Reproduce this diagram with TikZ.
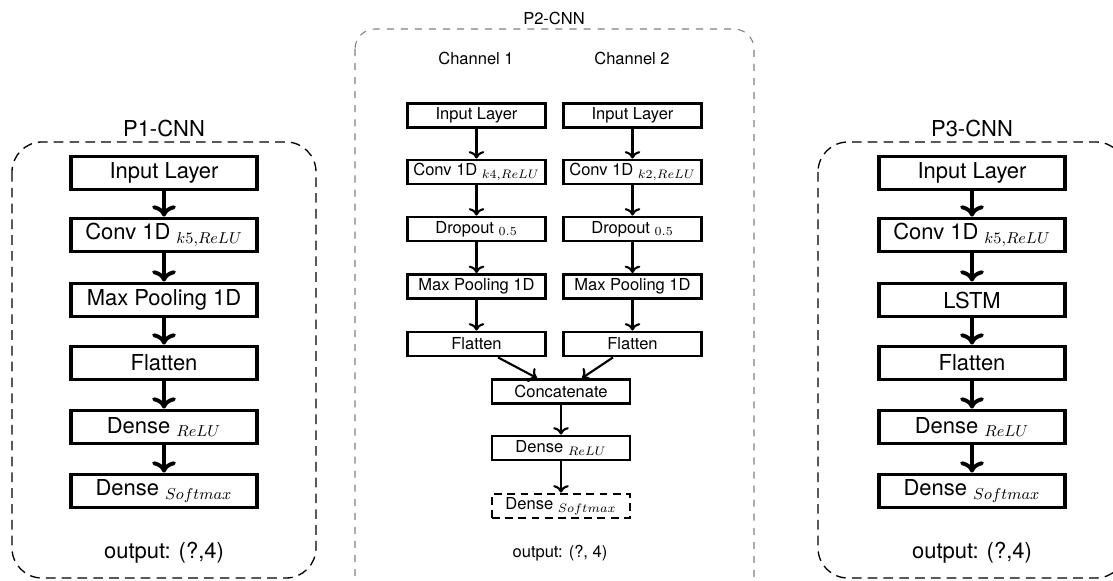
\documentclass[tikz,border=0pt]{standalone}
\usepackage{fontspec}
\setmainfont{TeX Gyre Heros}
\usetikzlibrary{arrows.meta}

\begin{document}
\begin{tikzpicture}[x=0.02cm, y=-0.02cm,
        bigbox/.style={draw, line width=2.2pt, minimum width=3.72cm,
            minimum height=0.66cm, inner sep=0pt, font=\fontsize{12.5}{15}\selectfont},
        smallbox/.style={draw, line width=1.6pt, minimum width=2.76cm,
            minimum height=0.48cm, inner sep=0pt, font=\fontsize{9.4}{11}\selectfont},
        bigarrow/.style={->, line width=2.2pt},
        smallarrow/.style={->, line width=1.2pt},
        bigtext/.style={font=\fontsize{12.5}{15}\selectfont},
        smalltext/.style={font=\fontsize{9.4}{11}\selectfont},
        panel/.style={dash pattern=on 5.5pt off 3.5pt, line width=0.75pt, rounded corners=0.6cm}]
      \clip (0,0) rectangle (1113,581);

      % P1-CNN
      \draw[panel] (12,142) rectangle (316,578);
      \node[bigtext] (P1title) at (164,128) {P1-CNN};
      \node[bigbox] (P1in) at (164,173) {Input Layer};
      \node[bigbox] (P1conv) at (164,235) {Conv 1D $_{k5,ReLU}$};
      \node[bigbox] (P1pool) at (164,300) {Max Pooling 1D};
      \node[bigbox] (P1flat) at (164,363) {Flatten};
      \node[bigbox] (P1dense) at (164,427) {Dense $_{ReLU}$};
      \node[bigbox] (P1soft) at (164,491) {Dense $_{Softmax}$};
      \node[bigtext] (P1out) at (164,553) {output: (?,4)};
      \draw[bigarrow] (P1in.south) -- (P1conv.north);
      \draw[bigarrow] (P1conv.south) -- (P1pool.north);
      \draw[bigarrow] (P1pool.south) -- (P1flat.north);
      \draw[bigarrow] (P1flat.south) -- (P1dense.north);
      \draw[bigarrow] (P1dense.south) -- (P1soft.north);

      % P2-CNN
      \draw[dash pattern=on 4pt off 4pt, line width=0.6pt, gray, rounded corners=0.4cm]
            (355,29) rectangle (754,600);
      \node[smalltext] (P2title) at (554,18) {P2-CNN};
      \node[smalltext] (CHa) at (476,58) {Channel 1};
      \node[smalltext] (CHb) at (632,58) {Channel 2};
      \node[smallbox] (Ain) at (476.5,115.5) {Input Layer};
      \node[smallbox] (Aconv) at (476.5,172) {Conv 1D $_{k4,ReLU}$};
      \node[smallbox] (Adrop) at (476.5,229) {Dropout $_{0.5}$};
      \node[smallbox] (Apool) at (476.5,286.5) {Max Pooling 1D};
      \node[smallbox] (Aflat) at (476.5,344) {Flatten};
      \node[smallbox] (Bin) at (632.5,115.5) {Input Layer};
      \node[smallbox] (Bconv) at (632.5,172) {Conv 1D $_{k2,ReLU}$};
      \node[smallbox] (Bdrop) at (632.5,229) {Dropout $_{0.5}$};
      \node[smallbox] (Bpool) at (632.5,286.5) {Max Pooling 1D};
      \node[smallbox] (Bflat) at (632.5,344) {Flatten};
      \node[smallbox] (CAT) at (561,391.5) {Concatenate};
      \node[smallbox] (Cdense) at (561,448) {Dense $_{ReLU}$};
      \node[smallbox, dash pattern=on 4.5pt off 3pt] (Csoft) at (561,506) {Dense $_{Softmax}$};
      \node[smalltext] (P2out) at (560,553) {output: (?, 4)};
      \draw[smallarrow] (Ain.south) -- (Aconv.north);
      \draw[smallarrow] (Aconv.south) -- (Adrop.north);
      \draw[smallarrow] (Adrop.south) -- (Apool.north);
      \draw[smallarrow] (Apool.south) -- (Aflat.north);
      \draw[smallarrow] (Bin.south) -- (Bconv.north);
      \draw[smallarrow] (Bconv.south) -- (Bdrop.north);
      \draw[smallarrow] (Bdrop.south) -- (Bpool.north);
      \draw[smallarrow] (Bpool.south) -- (Bflat.north);
      \draw[smallarrow] ([xshift=0.43cm]Aflat.south) -- ([xshift=-0.48cm]CAT.north);
      \draw[smallarrow] ([xshift=-0.39cm]Bflat.south) -- ([xshift=0.42cm]CAT.north);
      \draw[smallarrow] (CAT.south) -- (Cdense.north);
      \draw[smallarrow] (Cdense.south) -- (Csoft.north);

      % P3-CNN
      \draw[panel] (818,142) rectangle (1126,578);
      \node[bigtext] (P3title) at (972,128) {P3-CNN};
      \node[bigbox] (P3in) at (972,173) {Input Layer};
      \node[bigbox] (P3conv) at (972,235) {Conv 1D $_{k5,ReLU}$};
      \node[bigbox] (P3lstm) at (972,300) {LSTM};
      \node[bigbox] (P3flat) at (972,363) {Flatten};
      \node[bigbox] (P3dense) at (972,427) {Dense $_{ReLU}$};
      \node[bigbox] (P3soft) at (972,491) {Dense $_{Softmax}$};
      \node[bigtext] (P3out) at (972,553) {output: (?,4)};
      \draw[bigarrow] (P3in.south) -- (P3conv.north);
      \draw[bigarrow] (P3conv.south) -- (P3lstm.north);
      \draw[bigarrow] (P3lstm.south) -- (P3flat.north);
      \draw[bigarrow] (P3flat.south) -- (P3dense.north);
      \draw[bigarrow] (P3dense.south) -- (P3soft.north);
    \end{tikzpicture}
\end{document}
